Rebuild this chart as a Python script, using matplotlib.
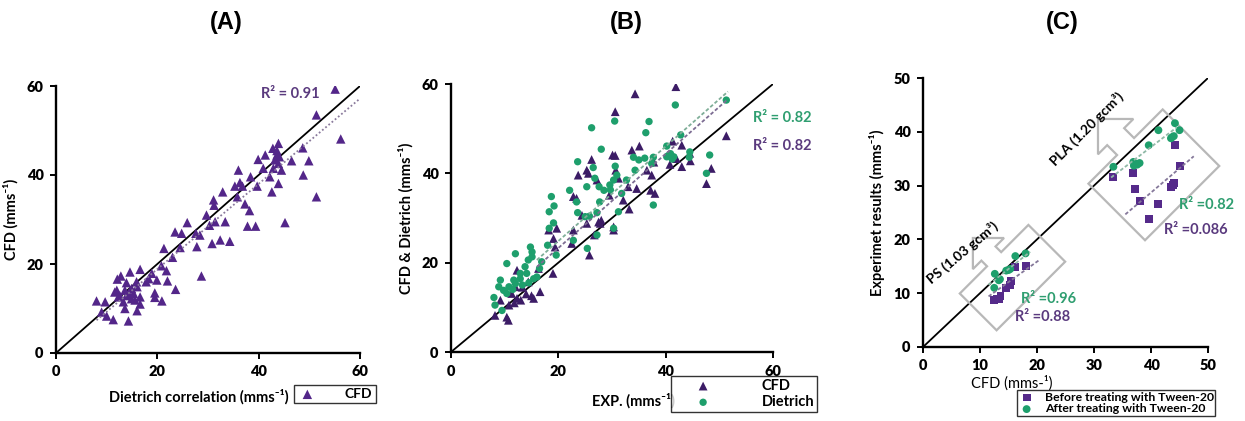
import numpy as np
import matplotlib
matplotlib.use("Agg")
import matplotlib.pyplot as plt
from matplotlib.patches import Polygon

plt.rcParams['font.family'] = ['Lato', 'DejaVu Sans']
plt.rcParams['font.weight'] = 'bold'

# ---------------- data ----------------
# Panel A: CFD vs Dietrich correlation (x, y)
a_points = [(55.1,59.3),(51.4,53.5),(56.2,48.1),(51.4,35.1),(45.2,29.3),(48.7,46.1),(49.9,43.2),(48.8,40.0),
            (46.5,43.2),(43.9,47.1),(42.8,46.0),(43.6,44.5),(43.9,42.6),(42.9,41.5),(44.5,41.1),(42.2,39.6),
            (43.9,38.1),(42.6,36.2),(41.3,44.5),(39.9,43.5),(40.9,41.5),(39.7,37.5),(38.4,39.6),(39.4,28.5),
            (37.8,28.5),(38.2,32.0),(37.3,33.5),(36.0,41.1),(36.3,38.3),(35.3,37.5),(35.8,35.1),(36.8,37.5),
            (32.9,36.2),(31.1,34.4),(31.2,33.2),(29.7,31.0),(33.4,29.5),(31.4,29.5),(30.3,28.7),(30.8,24.6),
            (32.4,25.4),(34.3,25.1),(27.6,26.9),(27.8,23.9),(25.9,29.3),(23.5,27.2),(24.8,26.9),(24.5,23.7),
            (23.0,21.5),(21.3,23.5),(23.6,14.3),(28.7,17.3),(20.8,19.6),(21.8,18.5),(22.0,16.2),(20.9,11.7),
            (19.5,13.5),(19.9,16.4),(19.5,12.5),(18.9,17.9),(18.3,16.7),(17.8,16.0),(16.6,18.8),(14.6,18.2),
            (12.1,16.6),(12.8,17.3),(13.9,15.8),(16.0,14.9),(15.3,13.4),(12.0,14.1),(12.6,12.9),(13.9,12.9),
            (14.9,12.2),(16.6,12.6),(13.6,10.0),(16.0,9.5),(14.3,7.2),(16.6,11.0),(8.0,11.7),(9.7,11.5),
            (9.0,9.2),(10.0,8.3),(11.3,7.5),(11.6,13.7),(14.9,14.5),(15.6,11.9),(13.3,11.5),(14.3,13.4),
            (12.3,12.6),(43.6,45.5),(44.1,44.1),(43.2,43.4),(28.4,26.5),(15.9,16.0),(13.6,14.1)]
a_r2 = "R² = 0.91"
a_trend = (0.958, -0.3, 8.0, 60.0)          # slope, intercept, x-start, x-end

# Panel B: CFD and Dietrich vs experiment (x, y)
b_cfd = [(41.9,59.4),(34.3,57.8),(30.6,53.8),(51.3,48.4),(41.3,47.2),(43.0,46.3),(35.1,46.1),(33.7,45.2),
         (26.2,43.1),(30.1,44.1),(30.6,44.0),(34.6,36.6),(36.5,40.7),(37.4,39.6),(38.0,35.5),(37.2,36.2),
         (42.0,43.3),(43.0,41.5),(44.5,44.5),(44.6,42.8),(48.5,41.1),(47.6,37.7),(23.7,39.6),(25.3,40.7),
         (22.8,34.8),(23.4,34.4),(25.6,40.0),(27.2,38.5),(30.7,40.7),(31.2,38.9),(29.5,35.1),(33.0,37.0),
         (32.1,34.0),(33.2,32.0),(30.3,28.0),(30.3,27.3),(27.5,29.1),(27.8,28.8),(25.3,28.8),(24.4,30.6),
         (22.8,27.3),(22.5,24.3),(25.8,21.7),(26.7,26.2),(19.7,27.7),(19.1,25.4),(19.4,23.5),(18.2,27.3),
         (19.0,17.6),(16.3,18.7),(16.6,13.5),(15.4,12.0),(15.0,12.6),(14.4,15.7),(12.3,18.3),(12.0,14.6),
         (11.3,13.1),(12.3,12.0),(10.8,10.5),(10.4,7.8),(10.7,7.1),(9.2,11.6),(8.2,8.2),(13.3,14.5),
         (13.0,11.6),(11.8,11.0),(14.0,13.0),(37.8,42.5),(40.8,42.0),(28.0,29.5)]
b_dietrich = [(51.3,56.4),(41.8,55.3),(30.5,51.7),(26.2,50.2),(36.9,51.6),(36.3,49.1),(42.8,48.6),(28.0,45.4),
              (23.6,42.6),(26.5,41.3),(30.6,41.6),(34.0,43.6),(35.0,43.0),(36.1,43.4),(37.7,43.6),(37.4,42.2),
              (40.2,46.1),(40.2,43.7),(41.5,43.7),(40.9,44.4),(44.5,44.8),(44.4,43.6),(48.2,44.1),(47.6,40.0),
              (37.7,32.9),(34.3,40.7),(30.9,39.6),(30.3,38.5),(29.6,37.4),(28.5,36.2),(29.7,36.3),(26.8,38.9),
              (25.3,37.0),(27.6,37.0),(31.8,35.5),(32.7,38.5),(27.7,33.6),(27.2,31.2),(25.8,30.4),(25.0,30.3),
              (23.6,31.2),(23.4,33.6),(22.1,36.2),(19.2,32.7),(18.7,34.8),(18.3,31.4),(19.1,28.9),(18.3,27.7),
              (18.0,23.9),(19.6,21.7),(22.8,25.0),(25.4,23.2),(27.2,26.2),(30.3,27.7),(31.2,31.4),(16.9,20.2),
              (16.5,18.7),(16.0,16.8),(15.4,16.4),(14.8,23.5),(15.1,22.4),(15.1,21.3),(14.4,20.6),(13.8,19.1),
              (12.9,17.6),(14.1,17.6),(12.0,22.0),(10.4,19.8),(11.7,16.1),(12.0,15.3),(10.8,14.6),(9.2,16.1),
              (8.9,14.6),(9.8,13.8),(10.4,13.1),(8.2,10.5),(8.0,12.2),(9.5,9.3),(12.9,16.4),(13.3,15.0),
              (11.5,14.0),(14.5,15.5),(40.5,44.0),(41.2,43.2)]
b_r2 = ["R² = 0.82", "R² = 0.82"]           # Dietrich, CFD
b_trend_dietrich = (1.059, 3.66, 16.0, 51.6)
b_trend_cfd = (1.054, 2.2, 16.0, 51.6)

# Panel C: experiment vs CFD, before / after Tween-20
c_ps_before_x = [12.5, 12.9, 13.3, 13.6, 14.6, 15.2, 15.4, 16.2, 18.0]
c_ps_before_y = [8.8, 8.9, 9.0, 9.5, 11.0, 11.5, 12.3, 14.8, 15.0]
c_ps_after_x = [12.5, 12.6, 13.3, 13.5, 14.6, 15.0, 15.3, 16.2, 18.0]
c_ps_after_y = [11.0, 13.6, 12.4, 12.6, 14.2, 14.3, 14.5, 16.9, 17.4]
c_pla_before_x = [33.4, 36.9, 37.2, 38.1, 39.6, 41.3, 43.5, 43.8, 44.1, 44.2, 45.1]
c_pla_before_y = [31.6, 32.3, 29.4, 27.2, 23.8, 26.6, 29.8, 30.1, 30.5, 37.6, 33.7]
c_pla_after_x = [33.4, 36.9, 37.0, 37.3, 37.6, 38.0, 39.6, 41.3, 43.5, 43.7, 44.0, 44.2, 45.0]
c_pla_after_y = [33.5, 34.4, 33.7, 34.0, 33.9, 34.2, 37.5, 40.3, 38.8, 39.0, 39.2, 41.6, 40.3]
c_trends = {  # slope, intercept, x-start, x-end
    'ps_after': (0.84, 1.9, 11.5, 18.8),
    'ps_before': (0.76, 0.66, 11.5, 20.3),
    'pla_after': (0.81, 4.77, 33.0, 44.5),
    'pla_before': (0.90, -7.3, 35.5, 47.5),
}
c_r2 = {'ps_after': "R² =0.96", 'ps_before': "R² =0.88",
        'pla_after': "R² =0.82", 'pla_before': "R² =0.086"}
c_groups = ["PS (1.03 gcm³)", "PLA (1.20 gcm³)"]

# ---------------- styles ----------------
PURPLE = "#532689"
PURPLE_DARK = "#3c1c66"
GREEN = "#1e9f6c"
PURPLE_TXT = "#5a3a7e"
GREEN_TXT = "#2f9e70"
GRAY = "#b8b8b8"

fig = plt.figure(figsize=(12.45, 4.21), dpi=100)
W, H = 1245, 421

def add_axes_px(x0, x1, ytop, ybot):
    return fig.add_axes([x0 / W, 1 - ybot / H, (x1 - x0) / W, (ybot - ytop) / H])

def style_axes(ax, lim, ticks):
    ax.set_xlim(lim)
    ax.set_ylim(lim)
    ax.set_xticks(ticks)
    ax.set_yticks(ticks)
    for s in ['top', 'right']:
        ax.spines[s].set_visible(False)
    for s in ['left', 'bottom']:
        ax.spines[s].set_linewidth(1.7)
        ax.spines[s].set_color('black')
    ax.tick_params(direction='out', length=4, width=1.4, labelsize=10.5, pad=5)
    for lab in ax.get_xticklabels() + ax.get_yticklabels():
        lab.set_fontweight('heavy')
    ax.plot(lim, lim, color='black', lw=1.3, zorder=1)

def trend(ax, params, color, ls):
    m, b, x0, x1 = params
    xs = np.array([x0, x1])
    ax.plot(xs, m * xs + b, color=color, lw=1.3, ls=ls, zorder=4)

# ---------- Panel A ----------
axA = add_axes_px(56, 360, 86, 353)
style_axes(axA, (0, 60), [0, 20, 40, 60])
pa = np.array(a_points)
axA.scatter(pa[:, 0], pa[:, 1], marker='^', s=46, color=PURPLE, edgecolors='none', zorder=3, label='CFD')
trend(axA, a_trend, "#8a7a9c", (0, (1, 1.3)))
axA.text(46.2, 58.2, a_r2, color=PURPLE_TXT, fontsize=10.5, fontweight='bold', ha='center', va='center')
axA.set_ylabel("CFD (mms⁻¹)", fontsize=10.5, fontweight='bold', labelpad=6)
axA.set_xlabel("Dietrich correlation (mms⁻¹)", fontsize=10.5, fontweight='bold')
axA.xaxis.set_label_coords(0.47, -0.135)
legA = axA.legend(loc='center', bbox_to_anchor=(335 / W, 1 - 394 / H), bbox_transform=fig.transFigure,
                  frameon=True, fancybox=False, edgecolor='black', handletextpad=2.0,
                  borderpad=0.25, handlelength=1.4, prop={'weight': 'bold', 'size': 10})
legA.get_frame().set_linewidth(1.0)

# ---------- Panel B ----------
axB = add_axes_px(451, 773, 84, 352)
style_axes(axB, (0, 60), [0, 20, 40, 60])
pc = np.array(b_cfd)
pd_ = np.array(b_dietrich)
axB.scatter(pc[:, 0], pc[:, 1], marker='^', s=40, color=PURPLE_DARK, edgecolors='none', zorder=3, label='CFD')
axB.scatter(pd_[:, 0], pd_[:, 1], marker='o', s=28, color=GREEN, edgecolors='none', zorder=3, label='Dietrich')
trend(axB, b_trend_dietrich, "#7fae98", (0, (2, 1.2)))
trend(axB, b_trend_cfd, "#7c6c92", (0, (2, 1.2)))
axB.text(61.8, 52.3, b_r2[0], color=GREEN_TXT, fontsize=10.5, fontweight='bold', ha='center', va='center', clip_on=False)
axB.text(61.8, 46.1, b_r2[1], color=PURPLE_TXT, fontsize=10.5, fontweight='bold', ha='center', va='center', clip_on=False)
axB.set_ylabel("CFD & Dietrich (mms⁻¹)", fontsize=10.5, fontweight='bold', labelpad=6)
axB.set_xlabel("EXP. (mms⁻¹)", fontsize=10.5, fontweight='bold')
axB.xaxis.set_label_coords((633 - 451) / 322, -0.155)
legB = axB.legend(loc='center', bbox_to_anchor=(744 / W, 1 - 394 / H), bbox_transform=fig.transFigure,
                  frameon=True, fancybox=False, edgecolor='black', handletextpad=2.0,
                  borderpad=0.2, handlelength=4.0, labelspacing=0.15, prop={'weight': 'bold', 'size': 10.5})
legB.get_frame().set_linewidth(1.0)

# ---------- Panel C ----------
axC = add_axes_px(923, 1208, 78, 347)
style_axes(axC, (0, 50), [0, 10, 20, 30, 40, 50])
axC.scatter(c_ps_before_x + c_pla_before_x, c_ps_before_y + c_pla_before_y, marker='s', s=32,
            color="#552a8a", edgecolors='none', zorder=3, label='Before treating with Tween-20')
axC.scatter(c_ps_after_x + c_pla_after_x, c_ps_after_y + c_pla_after_y, marker='o', s=32,
            color=GREEN, edgecolors='none', zorder=3, label='After treating with Tween-20')
for key in ['ps_after', 'pla_after']:
    trend(axC, c_trends[key], "#8fb9a6", (0, (2, 1.2)))
for key in ['ps_before', 'pla_before']:
    trend(axC, c_trends[key], "#85789a", (0, (2, 1.2)))

# outlined box-with-arrow callouts, built in pixel space around a data centre
def callout(ax, cx, cy, L, Wd, s, sl, hw, hl):
    c = ax.transData.transform((cx, cy))
    u = np.array([1, 1]) / np.sqrt(2)
    v = np.array([-1, 1]) / np.sqrt(2)
    t = Wd / 2
    local = [(L / 2, -t), (L / 2, t), (s / 2, t), (s / 2, t + sl), (hw, t + sl), (0, t + sl + hl),
             (-hw, t + sl), (-s / 2, t + sl), (-s / 2, t), (-L / 2, t), (-L / 2, -t)]
    pts = np.array([c + a * u + b * v for a, b in local])
    pts_data = ax.transData.inverted().transform(pts)
    ax.add_patch(Polygon(pts_data, closed=True, fill=False, edgecolor=GRAY, lw=1.6, zorder=2, clip_on=False))

callout(axC, 15.7, 12.9, 97, 52, 20, 8, 22, 22)
callout(axC, 40.5, 32.0, 105, 80, 24, 14, 25, 25)

axC.text(7.0, 17.5, c_groups[0], rotation=40, fontsize=10, fontweight='bold', ha='center', va='center')
axC.text(28.7, 40.6, c_groups[1], rotation=45, fontsize=10, fontweight='bold', ha='center', va='center')
axC.text(22.0, 8.9, c_r2['ps_after'], color=GREEN_TXT, fontsize=10.5, fontweight='bold', ha='center', va='center')
axC.text(20.9, 5.6, c_r2['ps_before'], color=PURPLE_TXT, fontsize=10.5, fontweight='bold', ha='center', va='center')
axC.text(49.8, 26.4, c_r2['pla_after'], color=GREEN_TXT, fontsize=10.5, fontweight='bold', ha='center', va='center', clip_on=False)
axC.text(47.8, 21.7, c_r2['pla_before'], color=PURPLE_TXT, fontsize=10.5, fontweight='bold', ha='center', va='center', clip_on=False)
axC.set_ylabel("Experimet results (mms⁻¹)", fontsize=10.5, fontweight='bold', labelpad=6)
axC.text((1012 - 923) / 285, (347 - 383) / 269, "CFD (mms-¹)", transform=axC.transAxes,
         fontsize=10.5, fontweight='normal', ha='center', va='center')
legC = axC.legend(loc='center', bbox_to_anchor=(1116 / W, 1 - 403 / H), bbox_transform=fig.transFigure,
                  frameon=True, fancybox=False, edgecolor='black', handletextpad=0.8,
                  borderpad=0.1, handlelength=1.4, labelspacing=0.05, prop={'weight': 'bold', 'size': 8.8})
legC.get_frame().set_linewidth(1.0)

# titles
for xpx, t in [(226, "(A)"), (626, "(B)"), (1062, "(C)")]:
    fig.text(xpx / W, 1 - 22 / H, t, fontsize=17, fontweight='bold', ha='center', va='center',
             family=['Liberation Sans', 'DejaVu Sans'])

fig.savefig("out.png", dpi=100)
